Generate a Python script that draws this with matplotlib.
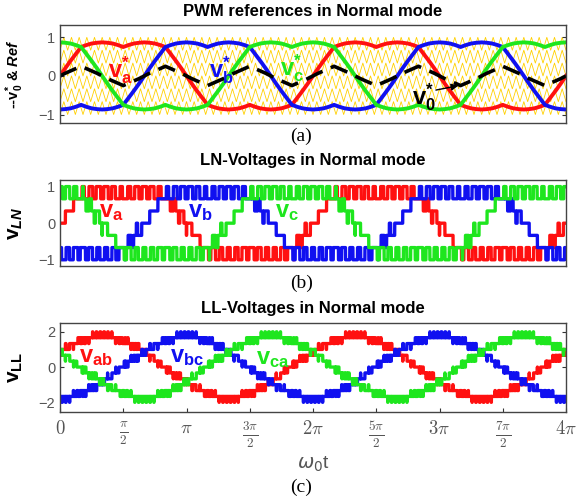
import numpy as np
import matplotlib.pyplot as plt

plt.rcParams['font.family'] = ['Liberation Sans', 'DejaVu Sans']
plt.rcParams['mathtext.fontset'] = 'custom'
plt.rcParams['mathtext.rm'] = 'Liberation Sans'
plt.rcParams['mathtext.it'] = 'Liberation Sans:italic'
plt.rcParams['mathtext.bf'] = 'Liberation Sans:bold'
try:
    plt.rcParams['mathtext.bfit'] = 'Liberation Sans:bold:italic'
except KeyError:
    pass

# phase-a reference over one fundamental cycle, read every pi/24 (7.5 deg)
va_ref = [0.00, 0.20, 0.39, 0.57, 0.75, 0.80, 0.84, 0.86, 0.87, 0.86, 0.84, 0.80,
          0.75, 0.80, 0.84, 0.86, 0.87, 0.86, 0.84, 0.80, 0.75, 0.57, 0.39, 0.20,
          0.00, -0.20, -0.39, -0.57, -0.75, -0.80, -0.84, -0.86, -0.87, -0.86, -0.84, -0.80,
          -0.75, -0.80, -0.84, -0.86, -0.87, -0.86, -0.84, -0.80, -0.75, -0.57, -0.39, -0.20]
# zero-sequence (dashed) over one third of a cycle, same spacing
v0_ref = [0.00, 0.07, 0.13, 0.19, 0.25, 0.19, 0.13, 0.07,
          0.00, -0.07, -0.13, -0.19, -0.25, -0.19, -0.13, -0.07]
n_cycles = 2
phase_shift = 16            # 120 deg in samples
carrier_ratio = 33          # carrier periods per fundamental cycle
carrier_levels = [-1.0, -2/3, -1/3, 0.0, 1/3, 2/3]   # bottom of each level-shifted carrier
step = 1/3

xtick_labels = [r'$0$', r'$\frac{\pi}{2}$', r'$\pi$', r'$\frac{3\pi}{2}$', r'$2\pi$',
                r'$\frac{5\pi}{2}$', r'$3\pi$', r'$\frac{7\pi}{2}$', r'$4\pi$']

RED, BLUE, GREEN = '#FF1010', '#1010F0', '#1EE61E'
TICK_GREY = '#555555'

# references for the three phases (120 deg apart), two cycles
va1 = np.array(va_ref)
vb1 = np.roll(va1, phase_shift)
vc1 = np.roll(va1, -phase_shift)
def two_cycles(v):
    v = np.tile(v, n_cycles)
    return np.append(v, v[0])
va, vb, vc = two_cycles(va1), two_cycles(vb1), two_cycles(vc1)
v0 = two_cycles(np.tile(v0_ref, 3))
theta = np.arange(len(va)) * np.pi / 24
t_end = theta[-1]

# level-shifted triangular carriers
n_vert = 2 * carrier_ratio * n_cycles + 1
carrier_t = np.arange(n_vert) * np.pi / carrier_ratio
carrier_shape = (np.arange(n_vert) % 2) * step

# phase-disposition PWM output of each reference
t_fine = np.linspace(0, t_end, 30001)
tri = np.interp(t_fine, carrier_t, carrier_shape)
def pwm(ref):
    r = np.interp(t_fine, theta, ref)
    count = sum((r > lev + tri).astype(float) for lev in carrier_levels)
    return -1 + count * step
la, lb, lc = pwm(va), pwm(vb), pwm(vc)

fig = plt.figure(figsize=(5.76, 5.01), dpi=100)
L, W = 60/576, 506/576
ax1 = fig.add_axes([L, 1 - 123/501, W, 98/501])
ax2 = fig.add_axes([L, 1 - 266/501, W, 86/501])
ax3 = fig.add_axes([L, 1 - 412/501, W, 89/501])

for ax in (ax1, ax2, ax3):
    ax.set_xlim(0, t_end)
    ax.tick_params(direction='in', length=3, width=0.8, colors='#333333',
                   labelcolor=TICK_GREY, labelsize=10.5, right=True, top=False)
    for s in ax.spines.values():
        s.set_color('#444444')
        s.set_linewidth(1.0)

# (a) references
for lev in carrier_levels:
    ax1.plot(carrier_t, lev + carrier_shape, color='#FFD000', lw=0.6, zorder=1)
ax1.plot(theta, va, color=RED, lw=2.8)
ax1.plot(theta, vb, color=BLUE, lw=2.8)
ax1.plot(theta, vc, color=GREEN, lw=2.8)
ax1.plot(theta, v0, color='black', lw=2.6, dashes=(5, 2.5))
ax1.set_ylim(-1.22, 1.32)
ax1.set_yticks([-1, 0, 1])
ax1.set_xticks([])
ax1.set_ylabel(r'--$\mathbf{v}_{\mathbf{0}}^{\mathbf{*}}$ & $\mathbfit{Ref}$',
               fontsize=10.5, fontweight='bold')
ax1.yaxis.set_label_coords(-0.068, 0.5)
kw = dict(fontsize=17, va='center', ha='left')
ax1.text(0.38*np.pi, 0.15, r'$\mathbf{v}_{\mathbf{a}}^{\mathbf{*}}$', color=RED, **kw)
ax1.text(1.18*np.pi, 0.15, r'$\mathbf{v}_{\mathbf{b}}^{\mathbf{*}}$', color=BLUE, **kw)
ax1.text(1.74*np.pi, 0.2, r'$\mathbf{v}_{\mathbf{c}}^{\mathbf{*}}$', color=GREEN, **kw)
ax1.text(2.78*np.pi, -0.55, r'$\mathbf{v}_{\mathbf{0}}^{\mathbf{*}}$', color='black', **kw)
ax1.annotate('', xy=(3.17*np.pi, -0.24), xytext=(2.95*np.pi, -0.38),
             arrowprops=dict(arrowstyle='-|>', color='black', lw=1.0, mutation_scale=10))

# (b) line-to-neutral
ax2.plot(t_fine, la, color=RED, lw=2.4)
ax2.plot(t_fine, lb, color=BLUE, lw=2.4)
ax2.plot(t_fine, lc, color=GREEN, lw=2.4)
ax2.set_ylim(-1.17, 1.18)
ax2.set_yticks([-1, 0, 1])
ax2.set_xticks([])
ax2.set_ylabel(r'$\mathbf{v}_{\mathbfit{LN}}$', fontsize=15)
ax2.yaxis.set_label_coords(-0.07, 0.5)
ax2.text(0.31*np.pi, 0.3, r'$\mathbf{v}_{\mathbf{a}}$', color=RED, **kw)
ax2.text(1.01*np.pi, 0.3, r'$\mathbf{v}_{\mathbf{b}}$', color=BLUE, **kw)
ax2.text(1.70*np.pi, 0.3, r'$\mathbf{v}_{\mathbf{c}}$', color=GREEN, **kw)

# (c) line-to-line
ax3.plot(t_fine, la - lb, color=RED, lw=2.4)
ax3.plot(t_fine, lb - lc, color=BLUE, lw=2.4)
ax3.plot(t_fine, lc - la, color=GREEN, lw=2.4)
ax3.set_ylim(-2.55, 2.5)
ax3.set_yticks([-2, 0, 2])
ax3.set_xticks(np.arange(len(xtick_labels)) * np.pi / 2)
ax3.set_xticklabels(xtick_labels, fontsize=13.5, color=TICK_GREY)
for lab in ax3.get_xticklabels():
    lab.set_math_fontfamily('cm')
ax3.tick_params(axis='x', pad=6)
ax3.set_ylabel(r'$\mathbf{v}_{\mathbf{LL}}$', fontsize=15)
ax3.yaxis.set_label_coords(-0.07, 0.5)
xl = ax3.set_xlabel(r'$\omega_0$t', fontsize=14, color=TICK_GREY, labelpad=3)
xl.set_math_fontfamily('dejavusans')
ax3.text(0.15*np.pi, 0.55, r'$\mathbf{v}_{\mathbf{ab}}$', color=RED, **kw)
ax3.text(0.87*np.pi, 0.55, r'$\mathbf{v}_{\mathbf{bc}}$', color=BLUE, **kw)
ax3.text(1.55*np.pi, 0.45, r'$\mathbf{v}_{\mathbf{ca}}$', color=GREEN, **kw)

# titles and panel letters
cx = L + W / 2
fig.text(cx, 1 - 12/501, 'PWM references in Normal mode', ha='center', va='center',
         fontsize=12, fontweight='bold')
fig.text(cx, 1 - 160/501, 'LN-Voltages in Normal mode', ha='center', va='center',
         fontsize=12, fontweight='bold')
fig.text(cx, 1 - 308/501, 'LL-Voltages in Normal mode', ha='center', va='center',
         fontsize=12, fontweight='bold')
for y, s in ((136, '(a)'), (283, '(b)'), (487, '(c)')):
    fig.text(cx - 0.02, 1 - y/501, s, ha='center', va='center', fontsize=14,
             family='Liberation Serif')

fig.savefig('out.png', dpi=100)
